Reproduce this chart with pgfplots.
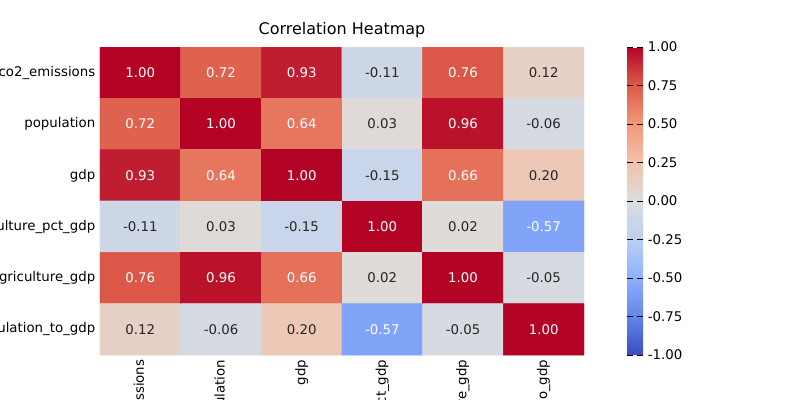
\documentclass[border=0pt]{standalone}
\usepackage{pgfplots}
\pgfplotsset{compat=1.18}
\usepackage{fontspec}
\setmainfont{DejaVu Sans}
\begin{document}
\begin{tikzpicture}
\path[use as bounding box] (-75pt,-33.75pt) rectangle (525pt,266.25pt);
\begin{axis}[
  at={(0,0)}, anchor=south west,
  width=363pt, height=231pt, scale only axis,
  /pgf/number format/assume math mode=true,
  font=\fontsize{10pt}{12pt}\selectfont,
  xmin=-0.5, xmax=5.5, ymin=-0.5, ymax=5.5, y dir=reverse,
  axis line style={draw=none},
  xtick={0,...,5}, ytick={0,...,5},
  xticklabels={co2\_emissions,population,gdp,agriculture\_pct\_gdp,agriculture\_gdp,population\_to\_gdp},
  yticklabels={co2\_emissions,population,gdp,agriculture\_pct\_gdp,agriculture\_gdp,population\_to\_gdp},
  x tick label style={rotate=90, anchor=east},
  tick style={black}, major tick length=3.5pt,
  title={Correlation Heatmap}, title style={font=\fontsize{12pt}{14pt}\selectfont, yshift=-3pt},
  colormap={cw}{rgb=(0.2298,0.2987,0.7537) rgb=(0.3917,0.5216,0.9165) rgb=(0.5543,0.6900,0.9955) rgb=(0.7346,0.8152,0.9525) rgb=(0.8654,0.8654,0.8654) rgb=(0.9468,0.7617,0.6732) rgb=(0.9567,0.5980,0.4773) rgb=(0.8642,0.3556,0.2870) rgb=(0.7057,0.0156,0.1502)},
  point meta min=-1, point meta max=1,
  colorbar,
  colorbar style={at={(1.089,0)}, anchor=south west, width=12pt,
    /pgf/number format/assume math mode=true,
    ytick={-1,-0.75,...,1}, yticklabel style={/pgf/number format/.cd,fixed,fixed zerofill,precision=2,assume math mode=true}, font=\fontsize{10pt}{12pt}\selectfont, axis line style={draw=none}},
]
\addplot[matrix plot*, mesh/cols=6, point meta=explicit, draw=none] table[meta=c] {
x y c
0 0 1.00
1 0 0.72
2 0 0.93
3 0 -0.11
4 0 0.76
5 0 0.12
0 1 0.72
1 1 1.00
2 1 0.64
3 1 0.03
4 1 0.96
5 1 -0.06
0 2 0.93
1 2 0.64
2 2 1.00
3 2 -0.15
4 2 0.66
5 2 0.20
0 3 -0.11
1 3 0.03
2 3 -0.15
3 3 1.00
4 3 0.02
5 3 -0.57
0 4 0.76
1 4 0.96
2 4 0.66
3 4 0.02
4 4 1.00
5 4 -0.05
0 5 0.12
1 5 -0.06
2 5 0.20
3 5 -0.57
4 5 -0.05
5 5 1.00
};
\addplot[only marks, mark=none, nodes near coords, point meta=explicit symbolic,
  every node near coord/.append style={anchor=center, white, font=\fontsize{10pt}{12pt}\selectfont}] table[meta=l] {
x y l
0 0 1.00
1 0 0.72
2 0 0.93
4 0 0.76
0 1 0.72
1 1 1.00
2 1 0.64
4 1 0.96
0 2 0.93
1 2 0.64
2 2 1.00
4 2 0.66
3 3 1.00
5 3 -0.57
0 4 0.76
1 4 0.96
2 4 0.66
4 4 1.00
3 5 -0.57
5 5 1.00
};
\addplot[only marks, mark=none, nodes near coords, point meta=explicit symbolic,
  every node near coord/.append style={anchor=center, black!85, font=\fontsize{10pt}{12pt}\selectfont}] table[meta=l] {
x y l
3 0 -0.11
5 0 0.12
3 1 0.03
5 1 -0.06
3 2 -0.15
5 2 0.20
0 3 -0.11
1 3 0.03
2 3 -0.15
4 3 0.02
3 4 0.02
5 4 -0.05
0 5 0.12
1 5 -0.06
2 5 0.20
4 5 -0.05
};
\end{axis}
\end{tikzpicture}
\end{document}
